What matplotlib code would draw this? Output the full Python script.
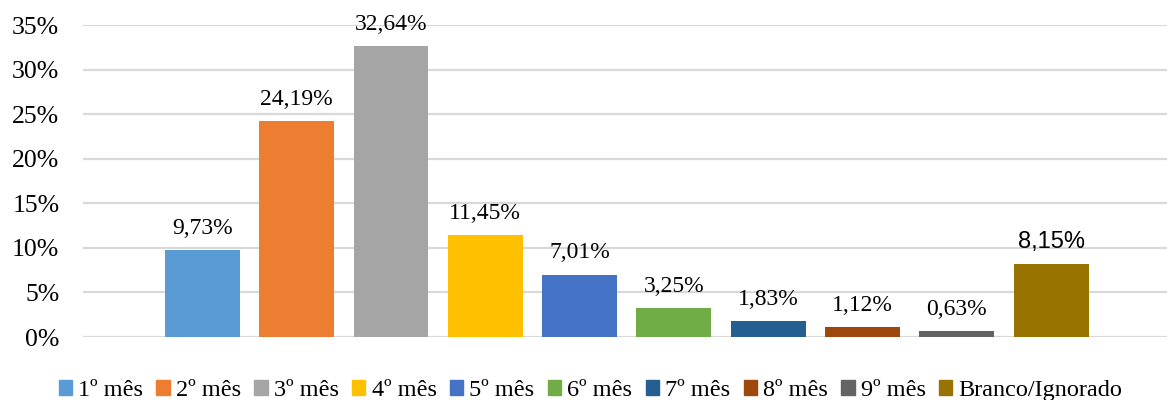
import matplotlib
matplotlib.use("Agg")
import matplotlib.pyplot as plt
from matplotlib.patches import Patch

categories = ["1º mês", "2º mês", "3º mês", "4º mês", "5º mês",
              "6º mês", "7º mês", "8º mês", "9º mês", "Branco/Ignorado"]
values = [9.73, 24.19, 32.64, 11.45, 7.01, 3.25, 1.83, 1.12, 0.63, 8.15]
labels = ["9,73%", "24,19%", "32,64%", "11,45%", "7,01%",
          "3,25%", "1,83%", "1,12%", "0,63%", "8,15%"]
colors = ["#5B9BD5", "#ED7D31", "#A5A5A5", "#FFC000", "#4472C4",
          "#70AD47", "#255E91", "#9E480E", "#636363", "#997300"]
yticks = [0, 5, 10, 15, 20, 25, 30, 35]

plt.rcParams["font.family"] = ["Liberation Serif", "DejaVu Serif"]

fig = plt.figure(figsize=(11.67, 4), dpi=100)
ax = fig.add_axes([0.0711, 0.1575, 0.9289, 0.78])

for i, (v, c, lab) in enumerate(zip(values, colors, labels)):
    ax.bar(i, v, width=0.795, color=c, zorder=3)
    if i == len(values) - 1:
        ax.annotate(lab, (i, v), xytext=(0, 8), textcoords="offset points",
                    ha="center", va="bottom", fontsize=17,
                    family="Liberation Sans")
    else:
        ax.annotate(lab, (i, v), xytext=(0, 8), textcoords="offset points",
                    ha="center", va="bottom", fontsize=17)

ax.set_xlim(-1.267, 10.23)
ax.set_ylim(0, 35)
ax.set_yticks(yticks)
ax.set_yticklabels([f"{t}%" for t in yticks], fontsize=18.5)
ax.set_xticks([])
ax.tick_params(axis="y", length=0, pad=17)
ax.grid(axis="y", color="#D9D9D9", linewidth=1.6, zorder=0)
for s in ax.spines.values():
    s.set_visible(False)

handles = [Patch(color=c, label=n) for c, n in zip(colors, categories)]
fig.legend(handles=handles, loc="lower center", bbox_to_anchor=(0.506, -0.057),
           ncol=10, frameon=False, fontsize=17.5, handlelength=0.55,
           handleheight=0.55, handletextpad=0.25, columnspacing=0.55)

fig.savefig("out.png", dpi=100)
